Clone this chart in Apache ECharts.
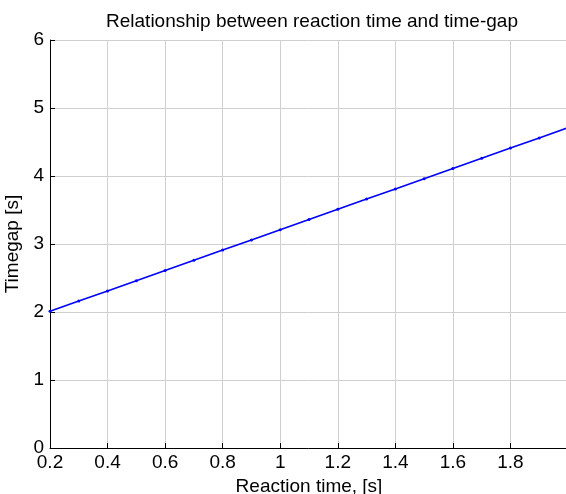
<!DOCTYPE html>
<html>
<head>
<meta charset="utf-8">
<script src="https://cdn.jsdelivr.net/npm/echarts@6/dist/echarts.min.js"></script>
<style>
html, body { margin: 0; padding: 0; background: #fff; }
#chart { width: 566px; height: 494px; }
</style>
</head>
<body>
<div id="chart"></div>
<script>
var reactionTime = [0.2, 0.3, 0.4, 0.5, 0.6, 0.7, 0.8, 0.9, 1.0, 1.1, 1.2, 1.3, 1.4, 1.5, 1.6, 1.7, 1.8, 1.9, 2.0];
var timegap = [2.01, 2.16, 2.31, 2.46, 2.61, 2.76, 2.91, 3.06, 3.21, 3.36, 3.51, 3.66, 3.81, 3.96, 4.11, 4.26, 4.41, 4.56, 4.71];

var font = "'Liberation Sans', Arial, sans-serif";
var chart = echarts.init(document.getElementById('chart'));
chart.setOption({
    animation: false,
    title: {
        text: 'Relationship between reaction time and time-gap',
        left: 307,
        top: 7,
        textAlign: 'center',
        textStyle: { fontFamily: font, fontSize: 19, fontWeight: 'normal', color: '#000' }
    },
    grid: { left: 50, right: -2, top: 40, bottom: 46, outerBoundsMode: 'none' },
    xAxis: {
        type: 'value',
        min: 0.2,
        max: 2.0,
        interval: 0.2,
        name: 'Reaction time, [s]',
        nameLocation: 'middle',
        nameGap: 28,
        nameTextStyle: { fontFamily: font, fontSize: 19, color: '#000' },
        axisLine: { show: true, lineStyle: { color: '#000', width: 1 } },
        axisTick: { show: true, inside: true, length: 5, lineStyle: { color: '#000' } },
        axisLabel: {
            fontFamily: font, fontSize: 19, color: '#000', margin: 5,
            showMaxLabel: false,
            formatter: function (v) { return String(+v.toFixed(1)); }
        },
        splitLine: { show: true, lineStyle: { color: '#cfcfcf', width: 1 } }
    },
    yAxis: {
        type: 'value',
        min: 0,
        max: 6,
        interval: 1,
        name: 'Timegap [s]',
        nameLocation: 'middle',
        nameGap: 27,
        nameTextStyle: { fontFamily: font, fontSize: 19, color: '#000' },
        axisLine: { show: true, lineStyle: { color: '#000', width: 1 } },
        axisTick: { show: true, inside: true, length: 5, lineStyle: { color: '#000' } },
        axisLabel: { fontFamily: font, fontSize: 19, color: '#000', margin: 6 },
        splitLine: { show: true, lineStyle: { color: '#cfcfcf', width: 1 } }
    },
    series: [
        {
            type: 'line',
            data: reactionTime.map(function (t, i) { return [t, timegap[i]]; }),
            symbol: 'circle',
            symbolSize: 3,
            showSymbol: true,
            lineStyle: { color: '#0000ff', width: 1.6 },
            itemStyle: { color: '#0000ff' }
        }
    ]
});
</script>
</body>
</html>
